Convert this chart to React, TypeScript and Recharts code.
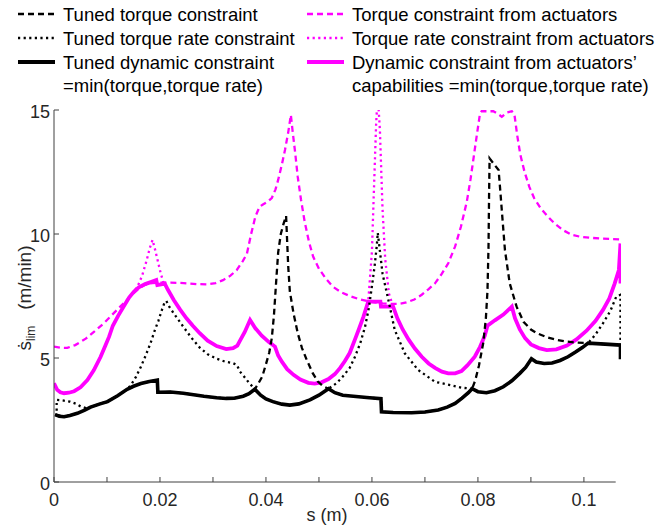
import { LineChart, Line, XAxis, YAxis, ReferenceLine } from 'recharts';

const AXIS = '#404040';
const TEXT = '#262626';
const MAGENTA = '#ff00ff';
const FONT = '"Liberation Sans", Arial, Helvetica, sans-serif';

type Pair = [number, number];

// x axis: s in metres, tick every 0.01, label every 0.02
const X_TICKS = [0, 0.01, 0.02, 0.03, 0.04, 0.05, 0.06, 0.07, 0.08, 0.09, 0.1];
const X_LABELS = ['0', '', '0.02', '', '0.04', '', '0.06', '', '0.08', '', '0.1'];
const Y_TICKS = [0, 5, 10, 15];

// black solid: tuned dynamic constraint
const TUNED_DYNAMIC: Pair[] = [
  [0.0002, 2.72], [0.001, 2.65], [0.0019, 2.63], [0.003, 2.68], [0.0044, 2.77], [0.0058, 2.9],
  [0.0069, 3.02], [0.0087, 3.15], [0.0101, 3.24], [0.012, 3.48], [0.0138, 3.74], [0.015, 3.86],
  [0.0164, 3.97], [0.018, 4.05], [0.0195, 4.11], [0.0196, 3.62], [0.022, 3.63], [0.0244, 3.58],
  [0.0283, 3.46], [0.0307, 3.4], [0.0325, 3.37], [0.034, 3.38], [0.0357, 3.46], [0.0368, 3.56],
  [0.0379, 3.74], [0.039, 3.5], [0.04, 3.35], [0.0413, 3.24], [0.043, 3.14], [0.0445, 3.1],
  [0.0462, 3.15], [0.0483, 3.31], [0.05, 3.5], [0.0518, 3.76], [0.053, 3.6], [0.0545, 3.5],
  [0.0565, 3.46], [0.059, 3.41], [0.0617, 3.36], [0.0618, 2.83], [0.064, 2.8], [0.0675, 2.79],
  [0.07, 2.82], [0.0725, 2.9], [0.0742, 3.02], [0.0757, 3.17], [0.077, 3.38], [0.0782, 3.6],
  [0.0789, 3.76], [0.08, 3.64], [0.0816, 3.6], [0.0832, 3.68], [0.0848, 3.84], [0.0864, 4.08],
  [0.0879, 4.38], [0.089, 4.62], [0.0901, 4.97], [0.091, 4.84], [0.0925, 4.78], [0.094, 4.8],
  [0.0955, 4.9], [0.097, 5.05], [0.0985, 5.25], [0.0997, 5.42], [0.1008, 5.6], [0.104, 5.56],
  [0.1069, 5.52], [0.1069, 4.95],
];

// black dashed: tuned torque constraint
const TUNED_TORQUE: Pair[] = [
  [0.0002, 2.72], [0.0019, 2.63], [0.0044, 2.77], [0.0069, 3.02], [0.0087, 3.15], [0.0101, 3.24],
  [0.012, 3.48], [0.0138, 3.74], [0.0164, 3.97], [0.018, 4.05], [0.0195, 4.11], [0.0196, 3.62],
  [0.022, 3.63], [0.0244, 3.58], [0.0283, 3.46], [0.0307, 3.4], [0.0325, 3.37], [0.034, 3.38],
  [0.0357, 3.46], [0.0368, 3.56], [0.0379, 3.74], [0.0385, 3.95], [0.0393, 4.25], [0.04, 4.75],
  [0.0406, 5.2], [0.0411, 5.8], [0.0415, 6.7], [0.0419, 8.0], [0.0423, 9.25], [0.0428, 10.0],
  [0.0433, 10.4], [0.0438, 10.73], [0.044, 9.7], [0.0442, 8.7], [0.0445, 7.7], [0.0452, 6.8],
  [0.046, 6.0], [0.0468, 5.4], [0.0477, 4.92], [0.0488, 4.4], [0.0498, 4.05], [0.0508, 3.86],
  [0.0518, 3.76], [0.053, 3.6], [0.0545, 3.5], [0.0565, 3.46], [0.059, 3.41], [0.0617, 3.36],
  [0.0618, 2.83], [0.064, 2.8], [0.0675, 2.79], [0.07, 2.82], [0.0725, 2.9], [0.0742, 3.02],
  [0.0757, 3.17], [0.077, 3.38], [0.0782, 3.6], [0.0789, 3.76], [0.0795, 4.1], [0.0802, 4.7],
  [0.081, 5.6], [0.0815, 6.6], [0.0818, 7.7], [0.082, 9.5], [0.0821, 11.5], [0.0822, 13.05],
  [0.0829, 12.85], [0.0839, 12.58], [0.0842, 11.8], [0.0845, 10.97], [0.0851, 9.35], [0.086, 8.01],
  [0.0873, 7.07], [0.0886, 6.46], [0.09, 6.15], [0.0911, 6.0], [0.093, 5.84], [0.0949, 5.73],
  [0.0968, 5.66], [0.0986, 5.62], [0.1008, 5.6], [0.104, 5.56], [0.1069, 5.52], [0.1069, 4.95],
];

// black dotted: tuned torque rate constraint
const TUNED_RATE: Pair[] = [
  [0.0005, 2.65], [0.0005, 3.31], [0.0013, 3.3], [0.003, 3.24], [0.0042, 3.15], [0.005, 3.05],
  [0.0062, 2.97], [0.0069, 3.02], [0.0087, 3.15], [0.0101, 3.24], [0.012, 3.48], [0.0138, 3.74],
  [0.0145, 3.9], [0.0155, 4.25], [0.0164, 4.65], [0.0173, 5.1], [0.0182, 5.59], [0.019, 6.1],
  [0.0197, 6.5], [0.0203, 6.9], [0.0208, 7.2], [0.0212, 7.3], [0.0218, 7.05], [0.0226, 6.8],
  [0.0244, 6.26], [0.026, 5.8], [0.0275, 5.42], [0.029, 5.15], [0.0307, 4.97], [0.0322, 4.86],
  [0.0338, 4.79], [0.0345, 4.72], [0.0351, 4.45], [0.0357, 4.3], [0.0368, 4.0], [0.0379, 3.74],
  [0.039, 3.5], [0.04, 3.35], [0.0413, 3.24], [0.043, 3.14], [0.0445, 3.1], [0.0462, 3.15],
  [0.0483, 3.31], [0.05, 3.5], [0.0518, 3.76], [0.0533, 3.98], [0.0545, 4.25], [0.0558, 4.6],
  [0.0568, 5.05], [0.0578, 5.6], [0.0587, 6.26], [0.0594, 7.0], [0.0599, 7.74], [0.0605, 8.7],
  [0.0609, 9.5], [0.0611, 10.05], [0.0614, 9.5], [0.062, 8.4], [0.0631, 7.34], [0.0643, 6.13],
  [0.0662, 5.19], [0.0687, 4.52], [0.0719, 4.04], [0.075, 3.9], [0.077, 3.8], [0.0789, 3.76],
  [0.08, 3.64], [0.0816, 3.6], [0.0832, 3.68], [0.0848, 3.84], [0.0864, 4.08], [0.0879, 4.38],
  [0.089, 4.62], [0.0901, 4.97], [0.091, 4.84], [0.0925, 4.78], [0.094, 4.8], [0.0955, 4.9],
  [0.097, 5.05], [0.0985, 5.25], [0.0997, 5.42], [0.1008, 5.6], [0.1022, 5.95], [0.1036, 6.4],
  [0.105, 6.9], [0.1061, 7.47], [0.1069, 7.55], [0.1069, 5.55],
];

// magenta solid: dynamic constraint from actuators' capabilities
const ACT_DYNAMIC: Pair[] = [
  [0.0, 3.98], [0.0006, 3.72], [0.0012, 3.62], [0.0019, 3.58], [0.0028, 3.6], [0.0038, 3.66],
  [0.005, 3.82], [0.0063, 4.11], [0.0075, 4.5], [0.0088, 5.05], [0.0097, 5.5], [0.0104, 5.86],
  [0.0111, 6.3], [0.0121, 6.7], [0.0132, 7.1], [0.0142, 7.45], [0.0151, 7.68], [0.016, 7.85],
  [0.0172, 7.98], [0.0184, 8.07], [0.0193, 8.14], [0.0195, 7.94], [0.0202, 7.97], [0.0209, 8.0],
  [0.0215, 7.75], [0.0226, 7.34], [0.0238, 6.95], [0.025, 6.6], [0.0262, 6.3], [0.0275, 6.0],
  [0.029, 5.7], [0.0307, 5.48], [0.0325, 5.36], [0.0338, 5.4], [0.0346, 5.5], [0.0351, 5.7],
  [0.036, 6.05], [0.037, 6.53], [0.038, 6.2], [0.0392, 5.9], [0.0405, 5.65], [0.0417, 5.46],
  [0.0423, 5.1], [0.043, 4.85], [0.044, 4.55], [0.0452, 4.32], [0.0465, 4.13], [0.048, 4.0],
  [0.0492, 3.97], [0.0505, 4.02], [0.0518, 4.15], [0.053, 4.35], [0.054, 4.6], [0.0549, 4.88],
  [0.0558, 5.2], [0.0568, 5.75], [0.0576, 6.2], [0.0584, 6.67], [0.0593, 7.27], [0.0616, 7.27],
  [0.0617, 7.07], [0.064, 7.07], [0.0648, 6.6], [0.0658, 6.15], [0.0669, 5.75], [0.0681, 5.38],
  [0.0694, 5.05], [0.0707, 4.78], [0.0719, 4.6], [0.0732, 4.45], [0.0744, 4.38], [0.0757, 4.38],
  [0.0769, 4.47], [0.078, 4.7], [0.0794, 5.05], [0.0804, 5.45], [0.0813, 5.9], [0.0818, 6.3],
  [0.0832, 6.52], [0.0848, 6.75], [0.0864, 7.07], [0.087, 6.6], [0.0879, 6.15], [0.0889, 5.8],
  [0.09, 5.55], [0.0915, 5.4], [0.093, 5.32], [0.0948, 5.35], [0.0968, 5.5], [0.0986, 5.75],
  [0.1005, 6.1], [0.1022, 6.5], [0.1036, 6.94], [0.1048, 7.4], [0.1058, 8.0], [0.1066, 8.55],
  [0.1069, 9.62], [0.1069, 8.0],
];

// magenta dashed: torque constraint from actuators
const ACT_TORQUE: Pair[] = [
  [0.0, 5.46], [0.0012, 5.41], [0.0025, 5.41], [0.004, 5.52], [0.006, 5.78], [0.0077, 6.08],
  [0.0094, 6.4], [0.011, 6.75], [0.0125, 7.07], [0.0138, 7.35], [0.015, 7.61], [0.016, 7.8],
  [0.0172, 7.95], [0.0185, 8.02], [0.02, 8.04], [0.022, 8.04], [0.0245, 8.02], [0.027, 7.98],
  [0.029, 7.97], [0.0305, 8.02], [0.0319, 8.14], [0.0333, 8.32], [0.0345, 8.55], [0.0356, 8.9],
  [0.0364, 9.2], [0.0372, 10.0], [0.038, 10.7], [0.0388, 11.1], [0.0395, 11.2], [0.0403, 11.3],
  [0.0411, 11.45], [0.0418, 11.8], [0.0423, 12.18], [0.043, 12.8], [0.0436, 13.4], [0.0442, 14.1],
  [0.0447, 14.8], [0.045, 14.2], [0.0455, 13.3], [0.046, 12.3], [0.0466, 11.4], [0.0473, 10.5],
  [0.0481, 9.7], [0.0489, 9.09], [0.05, 8.6], [0.0513, 8.2], [0.0526, 7.88], [0.0542, 7.65],
  [0.0558, 7.5], [0.0575, 7.38], [0.059, 7.3], [0.0605, 7.24], [0.062, 7.2], [0.0635, 7.18],
  [0.065, 7.18], [0.0665, 7.24], [0.068, 7.36], [0.0694, 7.55], [0.0707, 7.78], [0.0719, 8.01],
  [0.0732, 8.4], [0.0744, 8.82], [0.0757, 9.5], [0.0768, 10.3], [0.0779, 11.3], [0.0786, 12.2],
  [0.0792, 13.1], [0.0798, 14.0], [0.0804, 14.87], [0.0807, 14.95], [0.0829, 14.95], [0.0837, 14.85],
  [0.0845, 14.73], [0.0855, 14.9], [0.0864, 14.95], [0.0869, 14.8], [0.0874, 14.0], [0.088, 13.2],
  [0.0888, 12.5], [0.0897, 11.9], [0.0906, 11.45], [0.0918, 11.05], [0.0932, 10.7], [0.0946, 10.4],
  [0.0961, 10.15], [0.0977, 9.97], [0.0993, 9.89], [0.101, 9.85], [0.103, 9.82], [0.105, 9.8],
  [0.107, 9.78],
];

// magenta dotted: torque rate constraint from actuators
const ACT_RATE: Pair[] = [
  [0.0, 3.98], [0.0006, 3.72], [0.0012, 3.62], [0.0019, 3.58], [0.0028, 3.6], [0.0038, 3.66],
  [0.005, 3.82], [0.0063, 4.11], [0.0075, 4.5], [0.0088, 5.05], [0.0097, 5.5], [0.0104, 5.86],
  [0.0111, 6.3], [0.0121, 6.7], [0.0132, 7.1], [0.0142, 7.45], [0.0151, 7.68], [0.0158, 7.9],
  [0.0166, 8.3], [0.0175, 8.95], [0.0181, 9.45], [0.0186, 9.76], [0.0191, 9.35], [0.0196, 8.9],
  [0.0201, 8.45], [0.0206, 8.08], [0.0215, 7.75], [0.0226, 7.34], [0.0238, 6.95], [0.025, 6.6],
  [0.0262, 6.3], [0.0275, 6.0], [0.029, 5.7], [0.0307, 5.48], [0.0325, 5.36], [0.0338, 5.4],
  [0.0346, 5.5], [0.0351, 5.7], [0.036, 6.05], [0.037, 6.53], [0.038, 6.2], [0.0392, 5.9],
  [0.0405, 5.65], [0.0417, 5.46], [0.0423, 5.1], [0.043, 4.85], [0.044, 4.55], [0.0452, 4.32],
  [0.0465, 4.13], [0.048, 4.0], [0.0492, 3.97], [0.0505, 4.02], [0.0518, 4.15], [0.053, 4.35],
  [0.054, 4.6], [0.0549, 4.88], [0.0558, 5.2], [0.0568, 5.75], [0.0576, 6.2], [0.0584, 6.67],
  [0.0593, 7.27], [0.06, 9.3], [0.0603, 11.3], [0.0608, 14.5], [0.0611, 15.6], [0.0615, 14.2],
  [0.062, 11.0], [0.0625, 9.0], [0.0632, 7.6], [0.064, 7.07], [0.0648, 6.6], [0.0658, 6.15],
  [0.0669, 5.75], [0.0681, 5.38], [0.0694, 5.05], [0.0707, 4.78], [0.0719, 4.6], [0.0732, 4.45],
  [0.0744, 4.38], [0.0757, 4.38], [0.0769, 4.47], [0.078, 4.7], [0.0794, 5.05], [0.0804, 5.45],
  [0.0813, 5.9], [0.0818, 6.3], [0.0832, 6.52], [0.0848, 6.75], [0.0864, 7.07], [0.087, 6.6],
  [0.0879, 6.15], [0.0889, 5.8], [0.09, 5.55], [0.0915, 5.4], [0.093, 5.32], [0.0948, 5.35],
  [0.0968, 5.5], [0.0986, 5.75], [0.1005, 6.1], [0.1022, 6.5], [0.1036, 6.94], [0.1048, 7.4],
  [0.1058, 8.0], [0.1066, 8.55],
];

const rows = (pts: Pair[]) => pts.map(([s, v]) => ({ s, v }));

const DASH = '6 4';
const DOT = '2.2 3.4';

const SERIES = [
  { key: 'actDyn', data: ACT_DYNAMIC, color: MAGENTA, width: 3.8, dash: undefined },
  { key: 'actTorque', data: ACT_TORQUE, color: MAGENTA, width: 2.3, dash: DASH },
  { key: 'actRate', data: ACT_RATE, color: MAGENTA, width: 2.3, dash: DOT },
  { key: 'tunedDyn', data: TUNED_DYNAMIC, color: '#000', width: 3.6, dash: undefined },
  { key: 'tunedTorque', data: TUNED_TORQUE, color: '#000', width: 2.3, dash: DASH },
  { key: 'tunedRate', data: TUNED_RATE, color: '#000', width: 2.3, dash: DOT },
];

const LEGEND = [
  { text: ['Tuned torque constraint'], color: '#000', width: 2.3, dash: DASH, x: 18, row: 0 },
  { text: ['Tuned torque rate constraint'], color: '#000', width: 2.3, dash: DOT, x: 18, row: 1 },
  { text: ['Tuned dynamic constraint', '=min(torque,torque rate)'], color: '#000', width: 4, dash: undefined, x: 18, row: 2 },
  { text: ['Torque constraint from actuators'], color: MAGENTA, width: 2.3, dash: DASH, x: 307, row: 0 },
  { text: ['Torque rate constraint from actuators'], color: MAGENTA, width: 2.3, dash: DOT, x: 307, row: 1 },
  { text: ['Dynamic constraint from actuators\u2019', 'capabilities =min(torque,torque rate)'], color: MAGENTA, width: 4, dash: undefined, x: 307, row: 2 },
];

function XTick({ x, y, payload }: any) {
  const i = X_TICKS.findIndex((t) => Math.abs(t - payload.value) < 1e-9);
  return (
    <g>
      <line x1={x} x2={x} y1={y} y2={y - 5} stroke={AXIS} strokeWidth={1} />
      <text x={x} y={y + 24} textAnchor="middle" fill={TEXT} fontSize={18} fontFamily={FONT}>
        {X_LABELS[i] ?? ''}
      </text>
    </g>
  );
}

function YTick({ x, y, payload }: any) {
  return (
    <g>
      <line x1={x} x2={x + 5} y1={y} y2={y} stroke={AXIS} strokeWidth={1} />
      <text x={x - 4} y={y + 7.5} textAnchor="end" fill={TEXT} fontSize={18} fontFamily={FONT}>
        {payload.value}
      </text>
    </g>
  );
}

function Legend6() {
  return (
    <svg width={661} height={100} style={{ position: 'absolute', left: 0, top: 0 }}>
      {LEGEND.map((l) => {
        const cy = 14 + l.row * 24;
        return (
          <g key={l.text[0]}>
            <line x1={l.x} x2={l.x + 37} y1={cy} y2={cy} stroke={l.color} strokeWidth={l.width} strokeDasharray={l.dash} />
            {l.text.map((t, j) => (
              <text key={t} x={l.x + 45} y={cy + 6.5 + j * 23.5} fontSize={18.5} fontFamily={FONT} fill="#000">
                {t}
              </text>
            ))}
          </g>
        );
      })}
    </svg>
  );
}

export default function App() {
  return (
    <div style={{ position: 'absolute', left: 0, top: 0, width: 661, height: 528, background: '#fff' }}>
      <LineChart width={661} height={528} margin={{ top: 110, right: 40, bottom: 16, left: 0 }}>
        <XAxis
          type="number"
          dataKey="s"
          domain={[0, 0.107]}
          ticks={X_TICKS}
          interval={0}
          axisLine={false}
          tickLine={false}
          tickSize={0}
          tickMargin={0}
          height={30}
          tick={<XTick />}
          allowDataOverflow
        />
        <YAxis
          type="number"
          domain={[0, 15]}
          ticks={Y_TICKS}
          interval={0}
          width={54}
          axisLine={{ stroke: AXIS, strokeWidth: 1 }}
          tickLine={false}
          tickSize={0}
          tickMargin={0}
          tick={<YTick />}
          allowDataOverflow
        />
        <ReferenceLine
          segment={[{ x: 0, y: 0 }, { x: 0.106, y: 0 }]}
          stroke={AXIS}
          strokeWidth={1}
          ifOverflow="visible"
        />
        {SERIES.map((sr) => (
          <Line
            key={sr.key}
            data={rows(sr.data)}
            dataKey="v"
            type="linear"
            stroke={sr.color}
            strokeWidth={sr.width}
            strokeDasharray={sr.dash}
            dot={false}
            activeDot={false}
            isAnimationActive={false}
          />
        ))}
      </LineChart>
      <svg width={661} height={528} style={{ position: 'absolute', left: 0, top: 0, pointerEvents: 'none' }}>
        <text
          x={31}
          y={298}
          transform="rotate(-90 31 298)"
          textAnchor="middle"
          fontSize={19}
          fontFamily={FONT}
          fill={TEXT}
        >
          {'\u1E61'}
          <tspan fontSize={12} dy={4}>lim</tspan>
          <tspan dy={-4}>{'\u00A0\u00A0\u00A0(m/min)'}</tspan>
        </text>
        <text x={327} y={521} textAnchor="middle" fontSize={18} fontFamily={FONT} fill={TEXT}>
          s (m)
        </text>
      </svg>
      <Legend6 />
    </div>
  );
}
